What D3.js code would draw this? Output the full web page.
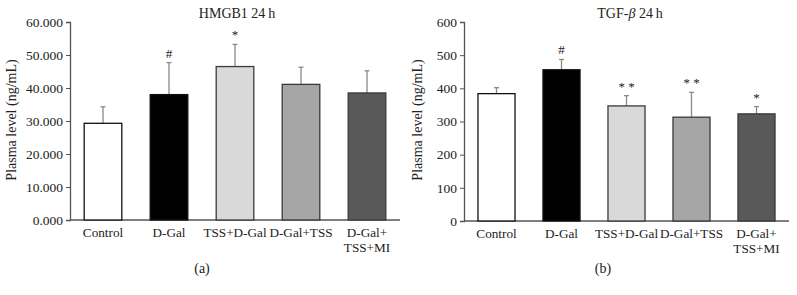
<!DOCTYPE html>
<html>
<head>
<meta charset="utf-8">
<script src="https://cdn.jsdelivr.net/npm/d3@7"></script>
<style>
  body { margin: 0; background: #fff; }
  svg text { font-family: "Liberation Serif", "DejaVu Serif", serif; fill: #222; }
</style>
</head>
<body>
<div id="chart"></div>
<script>
// groups on the x axis (last one wraps on two lines)
let groups = ["Control", "D-Gal", "TSS+D-Gal", "D-Gal+TSS", "D-Gal+\nTSS+MI"];
let barColors = ["#ffffff", "#000000", "#d9d9d9", "#a6a6a6", "#595959"];

// panel (a) HMGB1
let hmgbMean = [29.3, 38.0, 46.5, 41.1, 38.5];
let hmgbErr = [5.0, 9.7, 6.7, 5.2, 6.7];
let hmgbMarks = ["", "#", "*", "", ""];
let hmgbTicks = [0, 10, 20, 30, 40, 50, 60];

// panel (b) TGF-beta
let tgfMean = [384, 456, 347, 313, 323];
let tgfErr = [18, 31, 31, 75, 22];
let tgfMarks = ["", "#", "* *", "* *", "*"];
let tgfTicks = [0, 100, 200, 300, 400, 500, 600];

let W = 797, H = 295;
let svg = d3.select("#chart").append("svg")
    .attr("width", W)
    .attr("height", H);

function drawPanel(opt){
  let g = svg.append("g");

  let x = d3.scaleBand().domain(groups).range([opt.x0, opt.x1]).paddingInner(0.43).paddingOuter(0.215);
  let y = d3.scaleLinear().domain([0, opt.max]).range([opt.y0, 22]);

  // y axis
  let yAxis = d3.axisLeft(y).tickValues(opt.ticks).tickSize(4).tickFormat(opt.fmt);
  let ya = g.append("g").attr("transform", "translate(" + opt.x0 + ",0)").call(yAxis);
  ya.select(".domain").attr("stroke", "#555").attr("stroke-width", 1.3);
  ya.selectAll(".tick line").attr("stroke", "#555");
  ya.selectAll(".tick text").attr("font-size", 13.5).attr("x", -7).attr("fill", "#222")
      .style("font-family", "Liberation Serif, serif");

  // x axis baseline
  g.append("line")
      .attr("x1", opt.x0).attr("x2", opt.x1)
      .attr("y1", y(0)).attr("y2", y(0))
      .attr("stroke", "#555").attr("stroke-width", 1.3);

  // error bars (upper only)
  groups.forEach(function(c, i){
    let cx = x(c) + x.bandwidth()/2;
    let top = y(opt.mean[i] + opt.err[i]);
    g.append("line")
        .attr("x1", cx).attr("x2", cx)
        .attr("y1", y(opt.mean[i])).attr("y2", top)
        .attr("stroke", "#8a8a8a").attr("stroke-width", 1.3);
    g.append("line")
        .attr("x1", cx - 2.5).attr("x2", cx + 2.5)
        .attr("y1", top).attr("y2", top)
        .attr("stroke", "#8a8a8a").attr("stroke-width", 1.3);
  });

  // bars
  g.selectAll("rect.bar").data(groups).enter().append("rect")
      .attr("class", "bar")
      .attr("x", function(d){ return x(d); })
      .attr("width", x.bandwidth())
      .attr("y", function(d, i){ return y(opt.mean[i]); })
      .attr("height", function(d, i){ return y(0) - y(opt.mean[i]); })
      .attr("fill", function(d, i){ return barColors[i]; })
      .attr("stroke", function(d, i){ return i < 2 ? "#111" : "#3a3a3a"; })
      .attr("stroke-width", 1.3);

  // significance marks
  groups.forEach(function(c, i){
    if(!opt.marks[i]) return;
    g.append("text")
        .attr("x", x(c) + x.bandwidth()/2)
        .attr("y", y(opt.mean[i] + opt.err[i]) - 5)
        .attr("text-anchor", "middle")
        .attr("font-size", 13)
        .text(opt.marks[i]);
  });

  // category labels
  groups.forEach(function(c){
    let lines = c.split("\n");
    lines.forEach(function(l, k){
      g.append("text")
          .attr("x", x(c) + x.bandwidth()/2)
          .attr("y", y(0) + 17 + k * 15)
          .attr("text-anchor", "middle")
          .attr("font-size", 13.2)
          .text(l);
    });
  });

  // title
  let t = g.append("text")
      .attr("x", opt.titleX).attr("y", 18)
      .attr("text-anchor", "middle")
      .attr("font-size", 14);
  opt.title(t);

  // y label
  g.append("text")
      .attr("transform", "translate(" + opt.labelX + ",120) rotate(-90)")
      .attr("text-anchor", "middle")
      .attr("font-size", 14)
      .text("Plasma level (ng/mL)");

  // panel letter
  g.append("text")
      .attr("x", opt.letterX).attr("y", 273)
      .attr("text-anchor", "middle")
      .attr("font-size", 14)
      .text(opt.letter);
}

drawPanel({
  x0: 70, x1: 400, y0: 220, max: 60,
  ticks: hmgbTicks, fmt: d3.format(".3f"),
  mean: hmgbMean, err: hmgbErr, marks: hmgbMarks,
  titleX: 237, labelX: 16, letterX: 202, letter: "(a)",
  title: function(t){ t.text("HMGB1 24\u2009h"); }
});

drawPanel({
  x0: 464, x1: 789, y0: 221, max: 600,
  ticks: tgfTicks, fmt: d3.format("d"),
  mean: tgfMean, err: tgfErr, marks: tgfMarks,
  titleX: 630, labelX: 422, letterX: 603, letter: "(b)",
  title: function(t){
    t.append("tspan").text("TGF-");
    t.append("tspan").attr("font-style", "italic").text("\u03b2");
    t.append("tspan").text(" 24\u2009h");
  }
});
</script>
</body>
</html>
